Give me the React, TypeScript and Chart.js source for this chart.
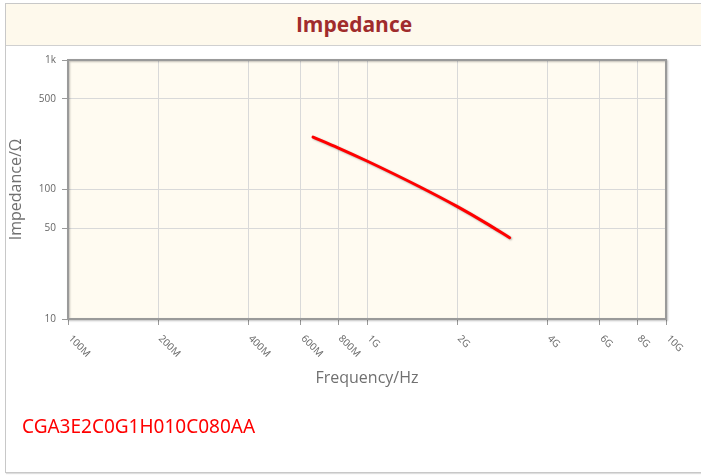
import React, { useEffect, useRef } from "react";
import { Chart, registerables } from "chart.js";

Chart.register(...registerables);

// ---- data ----
const freqHz = [6.6e8, 8e8, 1e9, 1.5e9, 2e9, 2.5e9, 3e9];
const impedanceOhm = [254, 210, 166, 105, 74, 55, 42.4];

const xTickValues = [1e8, 2e8, 4e8, 6e8, 8e8, 1e9, 2e9, 4e9, 6e9, 8e9, 1e10];
const xTickLabels = ["100M", "200M", "400M", "600M", "800M", "1G", "2G", "4G", "6G", "8G", "10G"];
const yTickValues = [10, 50, 100, 500, 1000];
const yTickLabels = ["10", "50", "100", "500", "1k"];

const TITLE = "Impedance";
const X_TITLE = "Frequency/Hz";
const Y_TITLE = "Impedance/Ω";
const PART = "CGA3E2C0G1H010C080AA";

const FONT = "'Open Sans', 'Noto Sans', sans-serif";
const PLOT_BG = "#fffbf1";

const decor = {
  id: "decor",
  beforeDraw(chart: any) {
    const { ctx, chartArea } = chart;
    const { left, top, right, bottom } = chartArea;
    ctx.save();
    ctx.fillStyle = PLOT_BG;
    ctx.fillRect(left, top, right - left, bottom - top);
    ctx.restore();
  },
  beforeDatasetsDraw(chart: any) {
    const { ctx, chartArea } = chart;
    const { left, top, right, bottom } = chartArea;
    ctx.save();
    ctx.shadowColor = "rgba(0,0,0,0.25)";
    ctx.shadowOffsetX = 1;
    ctx.shadowOffsetY = 1;
    ctx.shadowBlur = 2;
    ctx.strokeStyle = "#9a9a9a";
    ctx.lineWidth = 2;
    ctx.strokeRect(left, top, right - left, bottom - top);
    ctx.restore();
  },
  afterDraw(chart: any) {
    const { ctx, chartArea } = chart;
    const { left, top, right, bottom } = chartArea;
    const xs = chart.scales.x;
    ctx.save();
    ctx.fillStyle = "#666";
    ctx.font = `10px ${FONT}`;
    ctx.textAlign = "left";
    ctx.textBaseline = "middle";
    xTickValues.forEach((v, i) => {
      const px = xs.getPixelForValue(v);
      ctx.save();
      ctx.translate(px + 2, bottom + 18);
      ctx.rotate(Math.PI / 4);
      ctx.fillText(xTickLabels[i], 0, 0);
      ctx.restore();
    });
    ctx.fillStyle = "#707070";
    ctx.font = `16px ${FONT}`;
    ctx.textAlign = "center";
    ctx.textBaseline = "alphabetic";
    ctx.fillText(X_TITLE, (left + right) / 2, 337);
    ctx.save();
    ctx.translate(16, (top + bottom) / 2);
    ctx.rotate(-Math.PI / 2);
    ctx.textBaseline = "middle";
    ctx.fillText(Y_TITLE, 0, 0);
    ctx.restore();
    ctx.restore();
  },
  beforeDatasetDraw(chart: any) {
    const ctx = chart.ctx;
    ctx.save();
    ctx.shadowColor = "rgba(0,0,0,0.3)";
    ctx.shadowOffsetX = 1;
    ctx.shadowOffsetY = 1;
    ctx.shadowBlur = 2;
  },
  afterDatasetDraw(chart: any) {
    chart.ctx.restore();
  },
};

export default function App() {
  const ref = useRef<HTMLCanvasElement>(null);

  useEffect(() => {
    const canvas = ref.current;
    if (!canvas) return;
    const chart = new Chart(canvas, {
      type: "line",
      data: {
        datasets: [
          {
            data: freqHz.map((f, i) => ({ x: f, y: impedanceOhm[i] })),
            borderColor: "#ff0000",
            borderWidth: 3,
            pointRadius: 0,
            cubicInterpolationMode: "monotone",
            borderCapStyle: "round",
            borderJoinStyle: "round",
            fill: false,
          },
        ],
      },
      options: {
        animation: false,
        responsive: false,
        events: [],
        layout: { padding: { left: 0, top: 14, right: 35, bottom: 0 } },
        plugins: { legend: { display: false }, tooltip: { enabled: false }, title: { display: false } },
        scales: {
          x: {
            type: "logarithmic",
            min: 1e8,
            max: 1e10,
            afterBuildTicks: (s: any) => {
              s.ticks = xTickValues.map((v) => ({ value: v }));
            },
            afterFit: (s: any) => {
              s.height = 87;
            },
            ticks: { display: false },
            grid: { color: "#d9d9d9", lineWidth: 1, drawTicks: true, tickLength: 6, tickColor: "#9a9a9a" },
            border: { display: false },
          },
          y: {
            type: "logarithmic",
            min: 10,
            max: 1000,
            afterBuildTicks: (s: any) => {
              s.ticks = yTickValues.map((v) => ({ value: v }));
            },
            afterFit: (s: any) => {
              s.width = 68;
            },
            ticks: {
              autoSkip: false,
              padding: 6,
              color: "#666",
              font: { family: FONT, size: 10 },
              callback: (_v: any, i: number) => yTickLabels[i],
            },
            grid: { color: "#d9d9d9", lineWidth: 1, drawTicks: true, tickLength: 6, tickColor: "#9a9a9a" },
            border: { display: false },
          },
        },
      },
      plugins: [decor],
    } as any);
    return () => chart.destroy();
  }, []);

  return (
    <div>
      <div
        style={{
          position: "fixed",
          left: 5,
          top: 3,
          width: 698,
          height: 470,
          boxSizing: "border-box",
          border: "1px solid #c8c8c8",
          boxShadow: "1px 1px 1px #dedede",
          background: "#fff",
        }}
      >
        <div
          style={{
            height: 41,
            lineHeight: "41px",
            background: "#fef9ec",
            borderBottom: "1px solid #d0d0d0",
            textAlign: "center",
            fontFamily: FONT,
            fontWeight: 700,
            fontSize: 21,
            color: "#a02c2c",
          }}
        >
          {TITLE}
        </div>
      </div>
      <canvas
        ref={ref}
        width={701}
        height={360}
        style={{ position: "fixed", left: 0, top: 46, width: 701, height: 360 }}
      />
      <div
        style={{
          position: "fixed",
          left: 22,
          top: 413,
          lineHeight: "26px",
          fontFamily: "'Noto Sans', sans-serif",
          fontSize: 19,
          color: "#ff0000",
        }}
      >
        {PART}
      </div>
    </div>
  );
}
